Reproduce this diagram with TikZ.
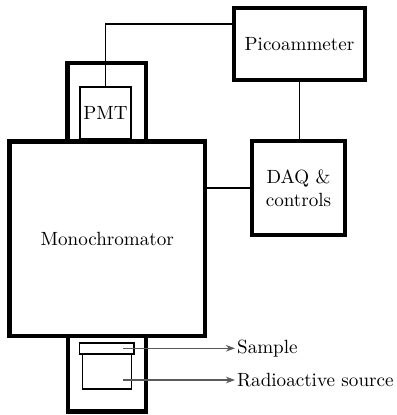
\documentclass[tikz,border=0pt]{standalone}
\usetikzlibrary{arrows.meta,positioning,calc}
\usepackage{xcolor}
\definecolor{wiregray}{HTML}{5A5A5A}
\tikzset{
  unit/.style={draw=black, line width=2.3pt, align=center, inner sep=0pt, outer sep=0pt},
  bigunit/.style={unit, line width=2.6pt},
  part/.style={draw=black, line width=1pt, inner sep=0pt, outer sep=0pt},
  wire/.style={draw=black, line width=0.8pt},
  pointer/.style={-{Stealth[length=1.8mm, width=1.3mm]}, line width=0.7pt, draw=wiregray}
}
\begin{document}
\begin{tikzpicture}[x=0.56pt, y=-0.56pt, every node/.style={font=\fontsize{10.7pt}{13pt}\selectfont}]
  \useasboundingbox (0,0) rectangle (396,415);
  % housings above and below the monochromator
  \node[unit, minimum width=44pt, minimum height=44pt] (top) at (106.75,102.25) {};
  \node[unit, minimum width=43.7pt, minimum height=42.3pt] (bot) at (107,373.75) {};
  \node[bigunit, minimum width=109.5pt, minimum height=108.9pt] (mono) at (107.25,238.75) {Monochromator};
  \node[part, minimum width=28.6pt, minimum height=29.1pt] (pmt) at (105.5,113) {PMT};
  \node[part, minimum width=30.5pt, minimum height=6.2pt] (smp) at (106.75,348.5) {};
  \node[part, minimum width=27.4pt, minimum height=19.6pt] (src) at (107,371.5) {};
  % electronics
  \node[unit, minimum width=73.4pt, minimum height=40.3pt] (pico) at (299.5,44) {Picoammeter};
  \node[unit, minimum width=52.1pt, minimum height=52.6pt] (daq) at (298.5,188) {DAQ \&\\controls};
  % wiring
  \coordinate (bend) at (105.5,24);
  \draw[wire] (pmt.north) -- (bend) -- (bend -| pico.west);
  \draw[wire] (pico.south) -- (pico.south |- daq.north);
  \draw[wire] (daq.west) -- (daq.west -| mono.east);
  % labels
  \node[anchor=west, inner sep=1pt] (smplabel) at (235,348.3) {Sample};
  \node[anchor=west, inner sep=1pt] (srclabel) at (235,380) {Radioactive source};
  \draw[pointer] (123,348.3) -- (smplabel.west);
  \draw[pointer] (123,380) -- (srclabel.west);
\end{tikzpicture}
\end{document}
